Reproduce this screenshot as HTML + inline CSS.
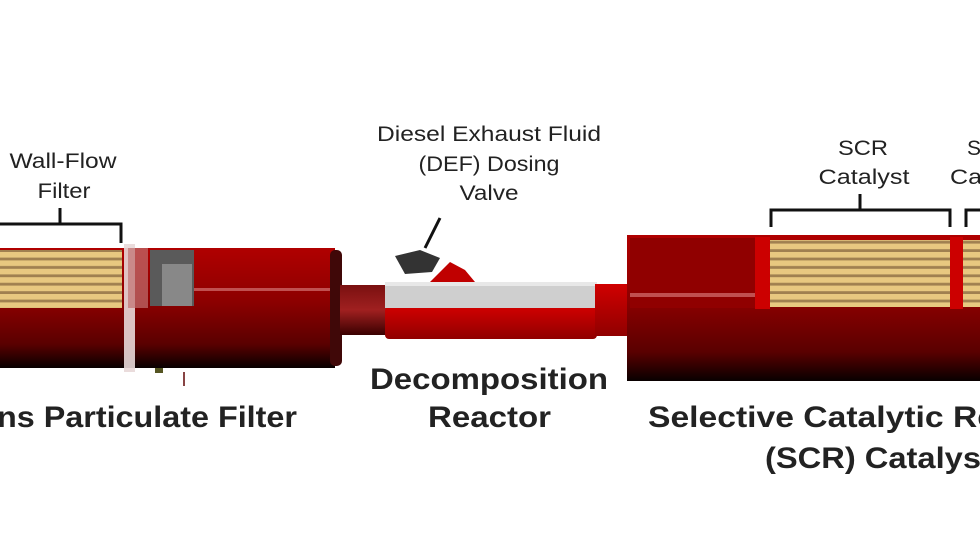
<!DOCTYPE html>
<html><head><meta charset="utf-8"><style>
html,body{margin:0;padding:0;background:#fff;width:980px;height:552px;overflow:hidden}
svg{display:block}
text{font-family:"Liberation Sans",Arial,sans-serif;fill:#222}
</style></head><body>
<svg width="980" height="552" viewBox="0 0 980 552">
<defs>
<linearGradient id="rb" x1="0" y1="0" x2="0" y2="1">
<stop offset="0" stop-color="#b00000"/><stop offset="0.45" stop-color="#8c0000"/><stop offset="0.8" stop-color="#5a0000"/><stop offset="1" stop-color="#080000"/>
</linearGradient>
<linearGradient id="pipe" x1="0" y1="0" x2="0" y2="1">
<stop offset="0" stop-color="#7a1010"/><stop offset="0.5" stop-color="#a02020"/><stop offset="1" stop-color="#3a0000"/>
</linearGradient>
<linearGradient id="red2" x1="0" y1="0" x2="0" y2="1">
<stop offset="0" stop-color="#d00000"/><stop offset="1" stop-color="#900000"/>
</linearGradient>
<pattern id="stripes" width="8" height="8.4" patternUnits="userSpaceOnUse">
<rect width="8" height="8.4" fill="#e8c880"/><rect y="5.6" width="8" height="2.8" fill="#a08050"/>
</pattern>
</defs>

<rect x="0" y="248" width="335" height="120" fill="url(#rb)"/>
<rect x="0" y="250" width="122" height="58" fill="url(#stripes)"/>
<rect x="124" y="244" width="11" height="128" fill="#e8d8d8" opacity="0.9"/>
<rect x="128" y="248" width="20" height="60" fill="#c07070" opacity="0.7"/>
<rect x="150" y="250" width="44" height="56" fill="#5a5a5a"/>
<rect x="162" y="264" width="30" height="42" fill="#888"/>
<rect x="194" y="288" width="136" height="3" fill="#c05050"/>
<rect x="330" y="250" width="12" height="116" rx="5" fill="#400808"/>
<rect x="155" y="368" width="8" height="5" fill="#552"/>
<rect x="183" y="372" width="2" height="14" fill="#844"/>

<rect x="340" y="285" width="48" height="50" fill="url(#pipe)"/>
<rect x="385" y="307" width="212" height="32" rx="4" fill="url(#red2)"/>
<rect x="385" y="282" width="212" height="26" fill="#cfcfcf"/>
<rect x="385" y="282" width="212" height="4" fill="#e8e8e8"/>
<path d="M390 282 L430 282 L450 262 L465 270 L475 282 Z" fill="#c00000"/>
<path d="M395 256 L420 250 L440 258 L432 272 L405 274 Z" fill="#333"/>
<line x1="440" y1="218" x2="425" y2="248" stroke="#111" stroke-width="3"/>
<rect x="595" y="284" width="32" height="52" fill="url(#red2)"/>

<rect x="627" y="235" width="353" height="146" fill="url(#rb)"/>
<rect x="630" y="238" width="125" height="70" fill="#900000"/>
<rect x="630" y="293" width="125" height="4" fill="#c05050"/>
<rect x="755" y="237" width="15" height="72" fill="#cc0000"/>
<rect x="770" y="240" width="180" height="67" fill="url(#stripes)"/>
<rect x="950" y="237" width="13" height="72" fill="#cc0000"/>
<rect x="963" y="240" width="17" height="67" fill="url(#stripes)"/>

<g stroke="#111" stroke-width="3" fill="none">
<path d="M0 224 H121 V243"/><path d="M60 224 V208"/>
<path d="M771 227 V210 H950 V227"/><path d="M860 210 V194"/>
<path d="M966 227 V210 H980"/>
</g>

<g font-size="21" text-anchor="middle" lengthAdjust="spacingAndGlyphs">
<text x="63" y="168" textLength="107" lengthAdjust="spacingAndGlyphs">Wall-Flow</text>
<text x="64" y="198" textLength="53" lengthAdjust="spacingAndGlyphs">Filter</text>
<text x="489" y="141" textLength="224" lengthAdjust="spacingAndGlyphs">Diesel Exhaust Fluid</text>
<text x="489" y="171" textLength="141" lengthAdjust="spacingAndGlyphs">(DEF) Dosing</text>
<text x="489" y="200" textLength="59" lengthAdjust="spacingAndGlyphs">Valve</text>
<text x="863" y="155" textLength="50" lengthAdjust="spacingAndGlyphs">SCR</text>
<text x="864" y="184" textLength="91" lengthAdjust="spacingAndGlyphs">Catalyst</text>
</g>
<g font-size="21">
<text x="967" y="155">S</text>
<text x="950" y="184" textLength="32" lengthAdjust="spacingAndGlyphs">Ca</text>
</g>
<g font-size="30" font-weight="bold">
<text x="-3" y="427" textLength="300" lengthAdjust="spacingAndGlyphs">ns Particulate Filter</text>
<text x="370" y="389" textLength="238" lengthAdjust="spacingAndGlyphs">Decomposition</text>
<text x="428" y="427" textLength="123" lengthAdjust="spacingAndGlyphs">Reactor</text>
<text x="648" y="427" textLength="348" lengthAdjust="spacingAndGlyphs">Selective Catalytic Re</text>
<text x="765" y="468" textLength="216" lengthAdjust="spacingAndGlyphs">(SCR) Catalys</text>
</g>
</svg>
</body></html>
